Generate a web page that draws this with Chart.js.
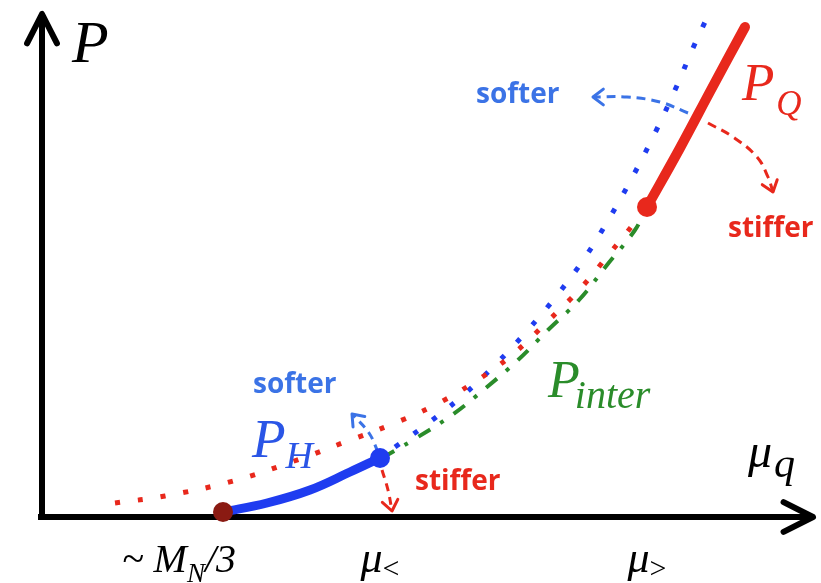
<!DOCTYPE html>
<html>
<head>
<meta charset="utf-8">
<script src="https://cdn.jsdelivr.net/npm/chart.js@4/dist/chart.umd.min.js"></script>
<style>
  html, body { margin: 0; padding: 0; background: #fff; }
  #wrap { width: 821px; height: 583px; position: relative; }
</style>
</head>
<body>
<div id="wrap"><canvas id="c"></canvas></div>
<script>
// Schematic equation of state: pressure P versus quark chemical potential mu_q
// (arbitrary units, origin where the two axes meet).

// Hadronic pressure P_H (solid) between the onset ~M_N/3 and mu_<
const hadronicP = [[1.81, 0.05], [2.25, 0.14], [2.68, 0.27], [3.08, 0.45], [3.38, 0.59]];
// Hadronic pressure extrapolated beyond its range (red dotted)
const hadronicExtrap = [[0.73, 0.14], [1.23, 0.21], [1.91, 0.36], [2.58, 0.58], [3.03, 0.75],
  [3.48, 0.92], [3.91, 1.11], [4.31, 1.34], [4.70, 1.62], [5.05, 1.95], [5.38, 2.28],
  [5.68, 2.64], [5.93, 2.95], [6.03, 3.09]];
// Quark pressure extrapolated down (blue dotted)
const quarkExtrap = [[3.53, 0.70], [3.81, 0.90], [4.18, 1.19], [4.53, 1.52], [4.85, 1.86],
  [5.16, 2.23], [5.44, 2.61], [5.68, 3.00], [5.91, 3.41], [6.13, 3.84], [6.33, 4.27],
  [6.51, 4.69], [6.63, 4.95]];
// Interpolated pressure P_inter between mu_< and mu_> (green dash-dot)
const interP = [[3.40, 0.59], [3.71, 0.77], [4.10, 1.02], [4.45, 1.30], [4.76, 1.57],
  [5.06, 1.87], [5.37, 2.17], [5.65, 2.52], [5.93, 2.87], [6.03, 3.07]];
// Quark pressure P_Q (solid) above mu_>
const quarkP = [[6.05, 3.10], [6.38, 3.69], [6.70, 4.29], [7.03, 4.90]];

// Matching points
const onsetPoint = [[1.81, 0.05]];
const lowerMatch = [[3.38, 0.59]];
const upperMatch = [[6.05, 3.10]];

// "softer" / "stiffer" indicator arrows
const softerLow = [[3.36, 0.65], [3.27, 0.84], [3.10, 1.03]];
const stifferLow = [[3.40, 0.47], [3.46, 0.27], [3.50, 0.06]];
const softerHigh = [[6.46, 4.04], [6.18, 4.15], [5.85, 4.20], [5.51, 4.20]];
const stifferHigh = [[6.66, 3.94], [6.91, 3.80], [7.15, 3.60], [7.26, 3.40], [7.31, 3.25]];

// Axes
const muAxis = [[-0.04, 0], [7.71, 0]];
const pAxis = [[0, -0.03], [0, 5.03]];

// Tick positions and labels on the mu_q axis
const muTicks = [1.81, 3.38, 6.05];
const muTickLabels = ['~ M_N/3', 'μ_<', 'μ_>'];

const toXY = arr => arr.map(([x, y]) => ({ x, y }));

const RED = '#e8281c';
const BLUE = '#1f3cf0';
const GREEN = '#2a8c2a';
const LBLUE = '#3b73e6';

function line(data, color, width, dash, order, extra) {
  return Object.assign({
    data: toXY(data), showLine: true, borderColor: color, backgroundColor: color,
    borderWidth: width, borderDash: dash || [], pointRadius: 0, tension: 0.4,
    borderCapStyle: dash && dash.length ? 'butt' : 'round', borderJoinStyle: 'round', order
  }, extra || {});
}
function dot(data, color, r) {
  return { data: toXY(data), showLine: false, pointRadius: r, pointHoverRadius: r,
    backgroundColor: color, borderColor: color, borderWidth: 0, order: 0 };
}

// Arrow heads at the last point of datasets flagged with arrowHead
const arrowHeads = {
  id: 'arrowHeads',
  afterDatasetsDraw(chart) {
    const ctx = chart.ctx;
    chart.data.datasets.forEach((ds, i) => {
      if (!ds.arrowHead) return;
      const pts = chart.getDatasetMeta(i).data;
      const n = pts.length;
      const tip = pts[n - 1];
      let bx = tip.cp1x, by = tip.cp1y;
      if (bx === undefined || Math.hypot(tip.x - bx, tip.y - by) < 1) { bx = pts[n - 2].x; by = pts[n - 2].y; }
      const ang = Math.atan2(tip.y - by, tip.x - bx);
      const { len, spread, width } = ds.arrowHead;
      ctx.save();
      ctx.strokeStyle = ds.borderColor;
      ctx.lineWidth = width;
      ctx.lineCap = 'round';
      ctx.lineJoin = 'round';
      ctx.setLineDash([]);
      ctx.beginPath();
      ctx.moveTo(tip.x - len * Math.cos(ang - spread), tip.y - len * Math.sin(ang - spread));
      ctx.lineTo(tip.x, tip.y);
      ctx.lineTo(tip.x - len * Math.cos(ang + spread), tip.y - len * Math.sin(ang + spread));
      ctx.stroke();
      ctx.restore();
    });
  }
};

// Text with simple subscripts: "P_Q", "P_{inter}"
function parseSub(s) {
  const parts = [];
  let i = 0, buf = '';
  while (i < s.length) {
    if (s[i] === '_') {
      if (buf) { parts.push({ t: buf, sub: false }); buf = ''; }
      if (s[i + 1] === '{') {
        const j = s.indexOf('}', i);
        parts.push({ t: s.slice(i + 2, j), sub: true });
        i = j + 1;
      } else {
        parts.push({ t: s[i + 1], sub: true });
        i += 2;
      }
    } else { buf += s[i]; i++; }
  }
  if (buf) parts.push({ t: buf, sub: false });
  return parts;
}
function drawRich(ctx, text, x, y, opt) {
  let cx = x;
  ctx.fillStyle = opt.color;
  ctx.textBaseline = 'alphabetic';
  ctx.textAlign = 'left';
  parseSub(text).forEach(p => {
    ctx.font = p.sub ? opt.subFont : opt.font;
    ctx.fillText(p.t, cx + (p.sub ? opt.subDx || 0 : 0), y + (p.sub ? opt.subDy : 0));
    cx += ctx.measureText(p.t).width + (p.sub ? opt.subDx || 0 : 0);
  });
}

const SERIF = '"Liberation Serif", "DejaVu Serif", serif';
const SANS = '"Open Sans", "Lato", sans-serif';

const labels = [
  { text: 'P', at: [0.30, 4.55], color: '#000', font: `italic 60px ${SERIF}` },
  { text: 'μ_q', at: [7.06, 0.50], color: '#000', font: `italic 48px ${SERIF}`, subFont: `italic 42px ${SERIF}`, subDy: 10, subDx: 2 },
  { text: 'P_Q', at: [7.00, 4.17], color: RED, font: `italic 53px ${SERIF}`, subFont: `italic 35px ${SERIF}`, subDy: 15, subDx: 2 },
  { text: 'P_H', at: [2.10, 0.60], color: '#2a55e6', font: `italic 55px ${SERIF}`, subFont: `italic 38px ${SERIF}`, subDy: 11, subDx: 0 },
  { text: 'P_{inter}', at: [5.06, 1.20], color: GREEN, font: `italic 52px ${SERIF}`, subFont: `italic 40px ${SERIF}`, subDy: 11, subDx: -5 },
  { text: 'softer', at: [4.34, 4.14], color: LBLUE, font: `bold 28px ${SANS}` },
  { text: 'stiffer', at: [6.86, 2.80], color: RED, font: `bold 28px ${SANS}` },
  { text: 'softer', at: [2.11, 1.24], color: LBLUE, font: `bold 28px ${SANS}` },
  { text: 'stiffer', at: [3.73, 0.27], color: RED, font: `bold 28px ${SANS}` }
];

const textLayer = {
  id: 'textLayer',
  afterDraw(chart) {
    const ctx = chart.ctx;
    const xs = chart.scales.x, ys = chart.scales.y;
    ctx.save();
    labels.forEach(l => {
      drawRich(ctx, l.text, xs.getPixelForValue(l.at[0]), ys.getPixelForValue(l.at[1]),
        { color: l.color, font: l.font, subFont: l.subFont || l.font, subDy: l.subDy || 0, subDx: l.subDx || 0 });
    });
    // tick labels under the mu_q axis
    const tickY = ys.getPixelForValue(-0.55);
    muTicks.forEach((v, i) => {
      const first = i === 0;
      const opt = first
        ? { color: '#000', font: `italic 40px ${SERIF}`, subFont: `italic 27px ${SERIF}`, subDy: 10, subDx: 0 }
        : { color: '#000', font: `italic 44px ${SERIF}`, subFont: `30px ${SERIF}`, subDy: 6, subDx: 0 };
      let w = 0;
      parseSub(muTickLabels[i]).forEach(p => { ctx.font = p.sub ? opt.subFont : opt.font; w += ctx.measureText(p.t).width; });
      const shift = first ? -44 : 0;
      drawRich(ctx, muTickLabels[i], xs.getPixelForValue(v) - w / 2 + shift, tickY, opt);
    });
    ctx.restore();
  }
};

const axisHead = { len: 33, spread: 0.47, width: 6 };
const smallHead = { len: 13, spread: 0.65, width: 3 };

new Chart(document.getElementById('c'), {
  type: 'scatter',
  data: {
    datasets: [
      dot(onsetPoint, '#8a1a12', 10),
      dot(lowerMatch, BLUE, 10),
      dot(upperMatch, RED, 10),
      line(hadronicP, BLUE, 9, null, 1),
      line(quarkP, RED, 10, null, 1),
      line(softerLow, LBLUE, 3, [8, 6], 2, { arrowHead: smallHead }),
      line(stifferLow, RED, 3, [8, 6], 2, { arrowHead: smallHead }),
      line(softerHigh, LBLUE, 3, [9, 6], 2, { arrowHead: smallHead }),
      line(stifferHigh, RED, 3, [9, 6], 2, { arrowHead: smallHead }),
      line(interP, GREEN, 4, [14, 12, 4, 12], 3),
      line(hadronicExtrap, RED, 5, [5, 18], 3),
      line(quarkExtrap, BLUE, 5, [5, 18], 3),
      line(muAxis, '#000', 6, null, 4, { tension: 0, borderCapStyle: 'butt', arrowHead: axisHead }),
      line(pAxis, '#000', 6, null, 4, { tension: 0, borderCapStyle: 'butt', arrowHead: axisHead })
    ]
  },
  options: {
    responsive: true,
    maintainAspectRatio: false,
    animation: false,
    layout: { padding: 0, autoPadding: false },
    events: [],
    plugins: { legend: { display: false }, tooltip: { enabled: false } },
    scales: {
      x: { type: 'linear', min: -0.42, max: 7.79, display: false },
      y: { type: 'linear', min: -0.66, max: 5.17, display: false }
    }
  },
  plugins: [arrowHeads, textLayer]
});
</script>
</body>
</html>
